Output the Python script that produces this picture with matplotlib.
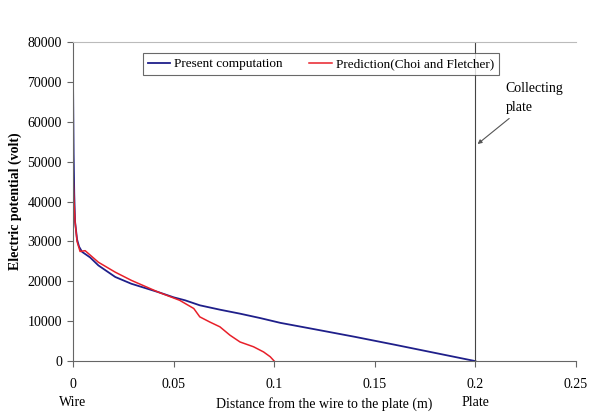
import numpy as np
import matplotlib.pyplot as plt

plt.rcParams['font.family'] = ['Liberation Serif', 'DejaVu Serif']

# present computation (blue)
x_present = [0, 0.0003, 0.0006, 0.001, 0.002, 0.003, 0.0045, 0.0085, 0.0126, 0.021,
             0.029, 0.0424, 0.05, 0.0557, 0.063, 0.073, 0.083, 0.093, 0.103, 0.12,
             0.14, 0.16, 0.18, 0.2]
v_present = [70000, 52000, 42000, 35000, 30500, 28700, 27400, 26000, 24000, 21100,
             19400, 17300, 16000, 15250, 14000, 12900, 11900, 10800, 9600, 8000,
             6100, 4100, 2050, 0]

# prediction (Choi and Fletcher) (red)
x_pred = [0, 0.0005, 0.001, 0.002, 0.0035, 0.006, 0.0085, 0.0126, 0.021, 0.029,
          0.0424, 0.053, 0.06, 0.063, 0.068, 0.073, 0.078, 0.083, 0.0897, 0.0947,
          0.098, 0.1]
v_pred = [47500, 40000, 35000, 30000, 27500, 27700, 26600, 24800, 22300, 20250,
          17300, 15250, 13200, 11100, 9800, 8600, 6500, 4800, 3600, 2300,
          1100, 0]

fig = plt.figure(figsize=(5.89, 4.17), dpi=100)
ax = fig.add_axes([0.124, 0.134, 0.854, 0.765])

ax.plot(x_present, v_present, color='#1f1f8a', lw=1.3, label='Present computation')
ax.plot(x_pred, v_pred, color='#e8202a', lw=1.1, label='Prediction(Choi and Fletcher)')
ax.plot([0.2, 0.2], [0, 80000], color='#444444', lw=0.8)

ax.set_xlim(0, 0.25)
ax.set_ylim(0, 80000)
ax.set_xticks([0, 0.05, 0.1, 0.15, 0.2, 0.25])
ax.set_xticklabels(['0', '0.05', '0.1', '0.15', '0.2', '0.25'])
ax.set_yticks(range(0, 80001, 10000))
ax.tick_params(labelsize=10, direction='out', length=4, color='#666666', pad=8)
ax.tick_params(axis='y', pad=4)

ax.spines['right'].set_visible(False)
ax.spines['top'].set_color('#bbbbbb')
ax.spines['left'].set_color('#666666')
ax.spines['bottom'].set_color('#666666')

ax.set_ylabel('Electric potential (volt)', fontsize=10, fontweight='bold', labelpad=4)
ax.text(0.5, -0.135, 'Distance from the wire to the plate (m)', transform=ax.transAxes,
        ha='center', va='center', fontsize=10)
ax.text(0, -0.13, 'Wire', transform=ax.get_xaxis_transform(), ha='center', va='center', fontsize=10)
ax.text(0.2, -0.13, 'Plate', transform=ax.get_xaxis_transform(), ha='center', va='center', fontsize=10)

ax.annotate('Collecting\nplate', xy=(0.2, 54000), xytext=(0.215, 66000),
            fontsize=10, ha='left', va='center', linespacing=1.6,
            arrowprops=dict(arrowstyle='-|>', color='#555555', lw=0.8, mutation_scale=6))

leg = ax.legend(loc='upper center', bbox_to_anchor=(0.493, 0.985), ncol=2, fontsize=9.5,
                frameon=True, fancybox=False, edgecolor='#444444', handlelength=1.7,
                columnspacing=2.0, borderpad=0.35, handletextpad=0.3)
leg.get_frame().set_linewidth(0.8)

fig.savefig('out.png', dpi=100)
